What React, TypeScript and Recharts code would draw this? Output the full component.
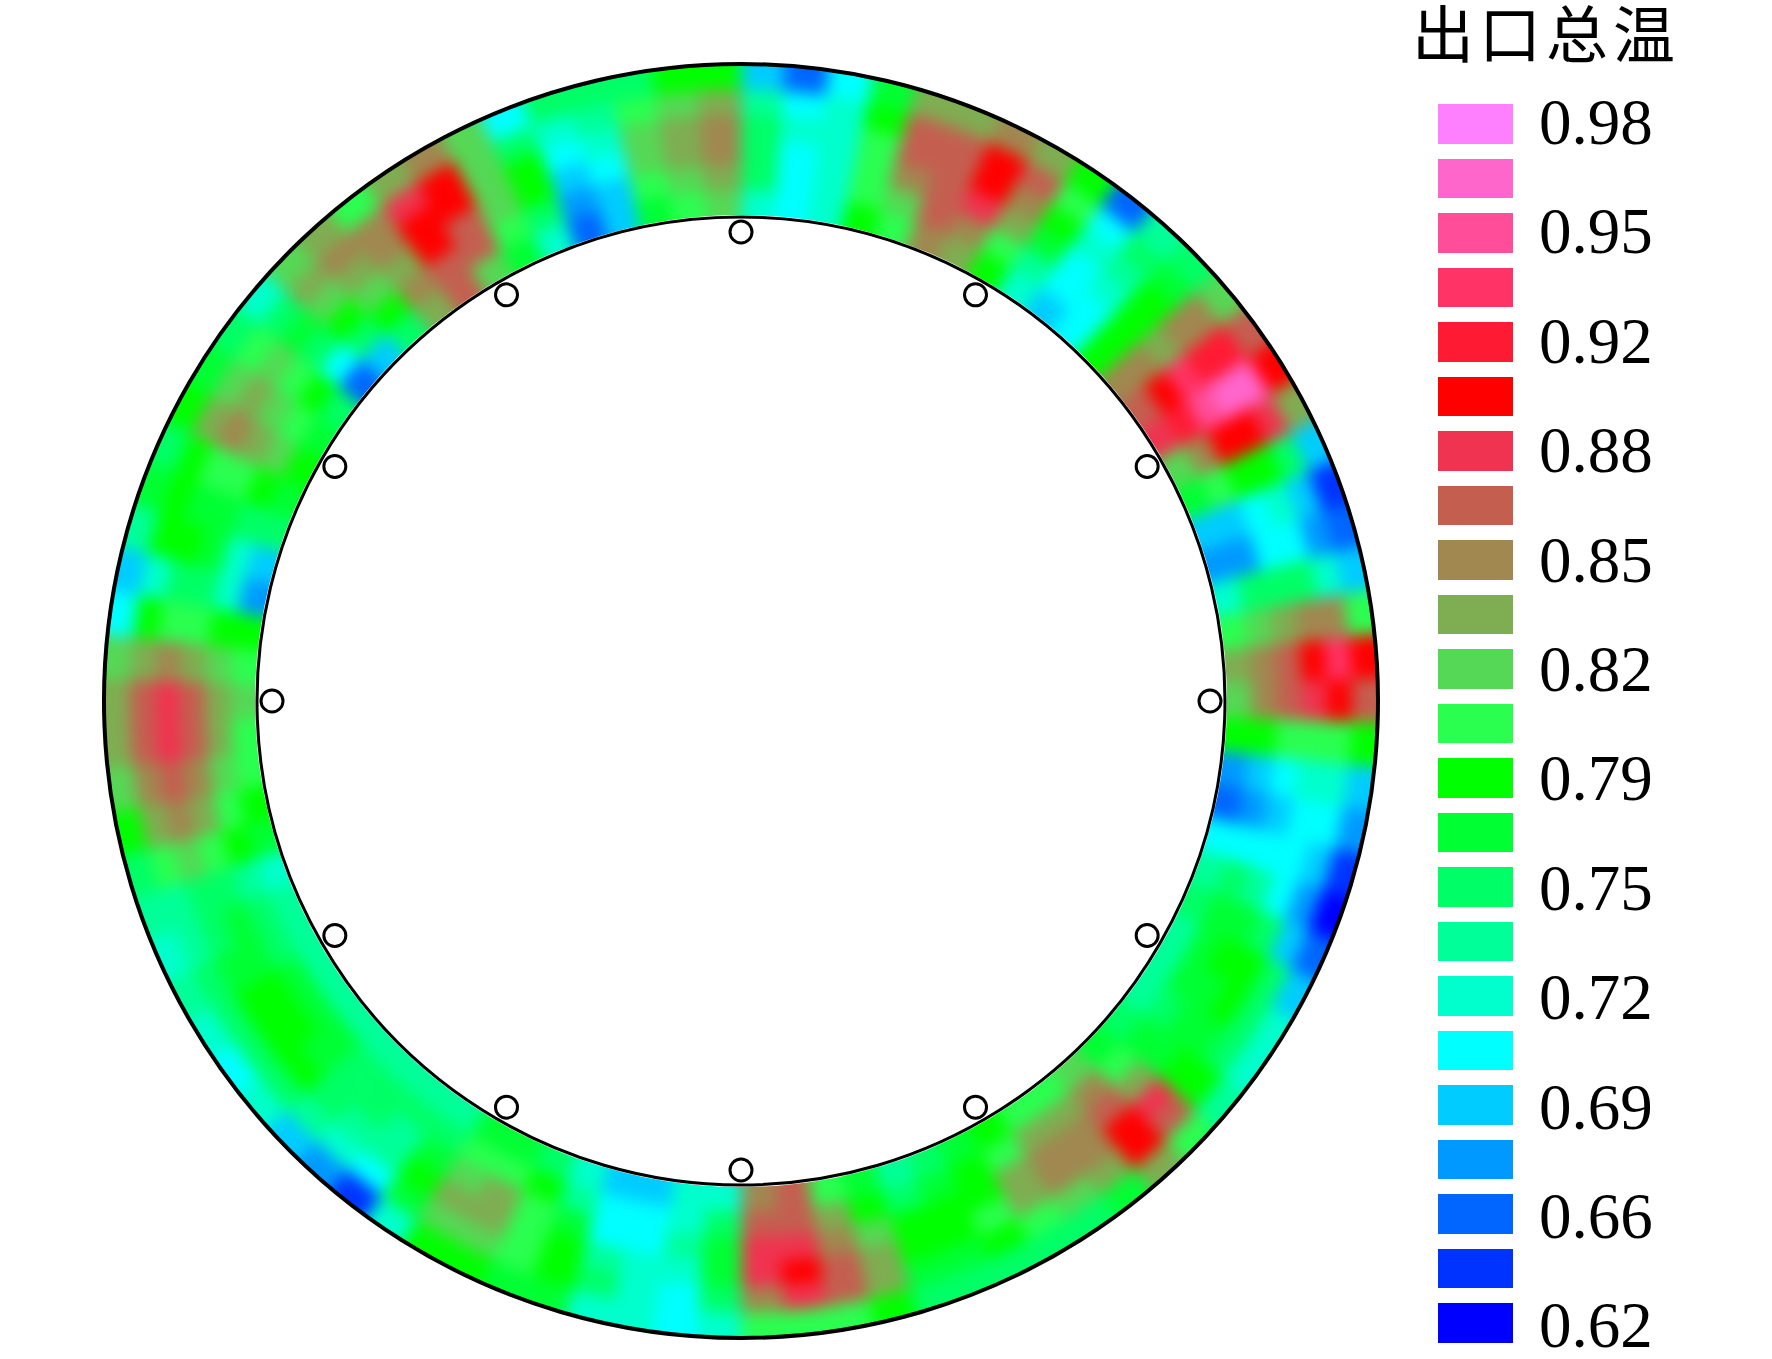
import React from "react";
import { PieChart, Pie, Cell, RadarChart, Radar, PolarAngleAxis, PolarRadiusAxis } from "recharts";

// Contour levels, top of the legend first
const legendColors = [
  "#FF80FF", "#FF66CC", "#FF4D99", "#FF3366", "#FF1A33", "#FF0000", "#F03350", "#C45F50",
  "#A08850", "#7FAD52", "#55D855", "#2AFF50", "#00FF00", "#00FF33", "#00FF66", "#00FF99",
  "#00FFCC", "#00FFFF", "#00CCFF", "#0099FF", "#0066FF", "#0033FF", "#0000FF",
];
const legendLabels = [
  "0.98", "", "0.95", "", "0.92", "", "0.88", "", "0.85", "", "0.82", "", "0.79", "", "0.75", "",
  "0.72", "", "0.69", "", "0.66", "", "0.62",
];
const title = "出口总温";

// Outlet total temperature (x100) per 4-degree sector, clockwise from the top.
// Every row lists six radial bands, inner wall to outer wall.
const sectorsTopRight = [
  [72,75,75,75,74,69],[70,70,70,72,70,65],[72,72,72,72,72,70],[78,80,80,80,78,77],
  [80,82,85,87,87,83],[85,87,87,87,87,83],[83,85,88,90,90,85],[78,80,83,85,87,83],
  [72,74,77,78,80,78],[69,70,70,72,70,65],[70,70,72,74,75,74],[78,78,78,78,77,75],
  [85,85,83,85,85,82],[87,90,93,92,92,87],[88,92,95,96,96,90],[82,85,90,90,88,83],
  [77,80,78,78,75,69],[69,69,70,72,69,64],[67,67,70,70,67,65],[72,75,75,75,72,69],
  [80,82,83,85,85,80],[83,85,87,90,93,90],
];
const sectorsBottomRight = [
  [82,85,87,88,90,87],[78,78,80,80,80,78],[67,69,70,72,72,69],[65,67,69,70,70,67],
  [70,70,70,70,69,64],[74,75,74,70,67,62],[75,77,77,75,69,65],[74,77,78,78,75,69],
  [74,77,77,78,75,72],[74,75,77,77,75,72],[75,77,77,78,78,74],[77,80,83,88,87,80],
  [82,85,87,90,90,83],[80,83,85,85,83,77],[80,83,85,85,82,75],[78,80,83,83,80,75],
  [77,78,78,80,78,75],[75,77,78,78,77,75],[74,75,78,78,77,75],[77,78,82,83,83,78],
  [80,83,85,87,87,80],[87,87,88,90,88,80],[85,87,88,88,85,80],
];
const sectorsBottomLeft = [
  [72,75,77,77,75,72],[72,72,74,72,70,70],[69,70,70,72,72,72],[69,70,70,74,75,72],
  [72,74,77,78,78,77],[75,78,80,80,80,77],[77,80,83,83,82,78],[77,80,82,83,82,78],
  [74,75,77,78,77,72],[74,75,74,74,70,64],[74,75,75,74,72,67],[74,75,75,75,74,69],
  [74,77,77,78,75,72],[74,77,78,78,75,70],[74,77,78,78,75,72],[74,75,77,77,75,74],
  [74,75,77,75,74,72],[72,74,75,75,74,74],[77,78,80,82,80,75],[78,80,83,85,83,78],
  [80,82,85,87,85,82],[80,83,87,88,87,83],
];
const sectorsTopLeft = [
  [82,83,87,88,87,83],[80,82,83,85,83,82],[78,78,80,80,78,70],[67,72,75,75,72,69],
  [69,72,77,78,78,74],[75,75,77,77,78,77],[77,78,80,80,78,75],[78,82,83,85,83,78],
  [77,80,82,83,82,77],[75,78,80,82,80,75],[65,70,75,77,75,72],[69,75,78,82,83,82],
  [75,78,82,83,85,83],[83,85,83,85,85,80],[87,87,90,90,88,83],[82,87,87,90,90,85],
  [77,80,82,82,82,82],[72,75,78,78,75,70],[65,67,69,70,72,75],[69,69,70,72,74,75],
  [77,80,82,82,80,75],[80,82,83,83,82,78],[82,83,85,85,83,78],
];

// Twelve probes around the inner wall
const probeAngles = ["0", "30", "60", "90", "120", "150", "180", "210", "240", "270", "300", "330"];
const probeRadius = 469;

const WIDTH = 1772;
const HEIGHT = 1359;
const CX = 741;
const CY = 701;
const R_IN = 486;
const R_OUT = 637;
const BLEED = 40;
const MIN_LEVEL = 62;
const MAX_LEVEL = 98;

const sectors = [...sectorsTopRight, ...sectorsBottomRight, ...sectorsBottomLeft, ...sectorsTopLeft];
const bandCount = 6;
const bandWidth = (R_OUT - R_IN) / bandCount;

function colorOf(v: number) {
  const idx = Math.round(((v - MIN_LEVEL) / (MAX_LEVEL - MIN_LEVEL)) * (legendColors.length - 1));
  return legendColors[legendColors.length - 1 - Math.max(0, Math.min(legendColors.length - 1, idx))];
}

const bands = Array.from({ length: bandCount }, (_, b) =>
  sectors.map((row, s) => ({ name: `s${s}`, share: 1, temp: row[b] / 100, fill: colorOf(row[b]) }))
);

const probeData = probeAngles.map((a) => ({ angle: a, radius: probeRadius }));
const circlePath = (r: number) => `M ${CX - r} ${CY} a ${r} ${r} 0 1 0 ${2 * r} 0 a ${r} ${r} 0 1 0 ${-2 * r} 0 Z`;
const ringClip = `path(evenodd, "${circlePath(R_OUT)} ${circlePath(R_IN)}")`;
const walls = [
  { r: R_OUT, w: 4 },
  { r: R_IN - 2, w: 3 },
];

export default function App() {
  return (
    <div style={{ position: "absolute", left: 0, top: 0, width: WIDTH, height: HEIGHT, background: "#fff", overflow: "hidden" }}>
      <div style={{ position: "absolute", left: 0, top: 0, width: WIDTH, height: HEIGHT, clipPath: ringClip }}>
        <div style={{ filter: "blur(8px)" }}>
          <PieChart width={WIDTH} height={HEIGHT} margin={{ top: 0, right: 0, bottom: 0, left: 0 }}>
            {bands.map((band, b) => (
              <Pie
                key={b}
                data={band}
                dataKey="share"
                cx={CX}
                cy={CY}
                innerRadius={b === 0 ? R_IN - BLEED : R_IN + b * bandWidth}
                outerRadius={b === bandCount - 1 ? R_OUT + BLEED : R_IN + (b + 1) * bandWidth}
                startAngle={90}
                endAngle={-270}
                paddingAngle={0}
                isAnimationActive={false}
                legendType="none"
              >
                {band.map((d) => (
                  <Cell key={d.name} fill={d.fill} stroke={d.fill} strokeWidth={1} />
                ))}
              </Pie>
            ))}
          </PieChart>
        </div>
      </div>
      <div style={{ position: "absolute", left: 0, top: 0 }}>
        <PieChart width={WIDTH} height={HEIGHT} margin={{ top: 0, right: 0, bottom: 0, left: 0 }}>
          {walls.map((wall) => (
            <Pie
              key={wall.r}
              data={[{ name: "wall", share: 1 }]}
              dataKey="share"
              cx={CX}
              cy={CY}
              innerRadius={wall.r}
              outerRadius={wall.r}
              startAngle={90}
              endAngle={-270}
              fill="none"
              stroke="#000"
              strokeWidth={wall.w}
              isAnimationActive={false}
              legendType="none"
            />
          ))}
        </PieChart>
      </div>
      <div style={{ position: "absolute", left: 0, top: 0 }}>
        <RadarChart width={WIDTH} height={HEIGHT} cx={CX} cy={CY} outerRadius={R_OUT} startAngle={90} endAngle={-270} data={probeData}>
          <PolarAngleAxis dataKey="angle" tick={false} axisLine={false} />
          <PolarRadiusAxis domain={[0, R_OUT]} tick={false} axisLine={false} />
          <Radar
            dataKey="radius"
            stroke="none"
            fill="none"
            isAnimationActive={false}
            dot={{ r: 11, fill: "#fff", stroke: "#000", strokeWidth: 3 }}
          />
        </RadarChart>
      </div>
      <div
        style={{
          position: "absolute",
          left: 1412,
          top: 0,
          fontFamily: "'Noto Sans CJK SC'",
          fontWeight: 400,
          fontSize: 62,
          letterSpacing: 5,
          lineHeight: "62px",
          color: "#000",
          whiteSpace: "nowrap",
        }}
      >
        {title}
      </div>
      {legendColors.map((c, i) => (
        <React.Fragment key={i}>
          <div style={{ position: "absolute", left: 1438, top: 104 + i * 54.5, width: 75, height: 39.5, background: c }} />
          {legendLabels[i] ? (
            <div
              style={{
                position: "absolute",
                left: 1539,
                top: 92 + i * 54.7,
                height: 60,
                lineHeight: "60px",
                fontFamily: "'Liberation Serif'",
                fontSize: 65,
                color: "#000",
              }}
            >
              {legendLabels[i]}
            </div>
          ) : null}
        </React.Fragment>
      ))}
    </div>
  );
}
